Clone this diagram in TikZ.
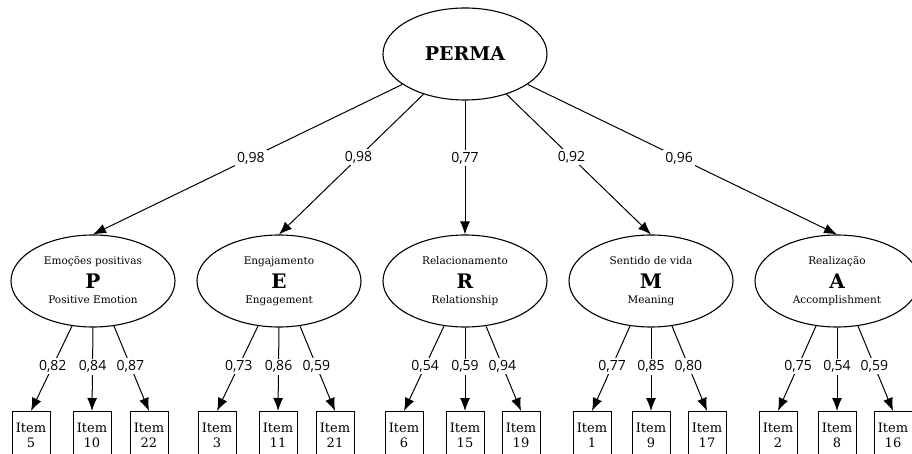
\documentclass[tikz,border=0pt]{standalone}
\usepackage{fontspec}
\setmainfont{DejaVu Serif}
\newfontfamily\numfont{Open Sans}
\usetikzlibrary{arrows.meta}
\usetikzlibrary{shapes.geometric}
\usetikzlibrary{positioning}

\begin{document}
\begin{tikzpicture}[x=1pt, y=-1pt,
    latent/.style={draw, ellipse, line width=1.1pt, minimum width=164pt, minimum height=92pt, inner sep=0pt, font=\fontsize{20}{20}\selectfont\bfseries},
    small/.style={anchor=base, inner sep=0pt, font=\fontsize{10.5}{11}\selectfont},
    item/.style={draw, anchor=north, line width=1pt, minimum width=38pt, minimum height=48pt, inner sep=0pt, align=center, font=\fontsize{13}{15.5}\selectfont},
    coef/.style={fill=white, inner sep=2pt, font=\numfont\fontsize{14}{14}\selectfont},
    arr/.style={-{Latex[length=13pt, width=10pt]}, line width=1pt}]
    \useasboundingbox (0,0) rectangle (912,454);

    % top factor
    \node[latent, font=\fontsize{19}{19}\selectfont\bfseries] (perma) at (465,54) {PERMA};

    % the five factors
    \node[latent] (p) at (93,281) {P};
    \node[small] (p-pt) at ([yshift=16pt]p.center) {Emoções positivas};
    \node[small] (p-en) at ([yshift=-22pt]p.center) {Positive Emotion};

    \node[latent] (e) at (279,281) {E};
    \node[small] (e-pt) at ([yshift=16pt]e.center) {Engajamento};
    \node[small] (e-en) at ([yshift=-22pt]e.center) {Engagement};

    \node[latent] (r) at (465,281) {R};
    \node[small] (r-pt) at ([yshift=16pt]r.center) {Relacionamento};
    \node[small] (r-en) at ([yshift=-22pt]r.center) {Relationship};

    \node[latent] (m) at (651,281) {M};
    \node[small] (m-pt) at ([yshift=16pt]m.center) {Sentido de vida};
    \node[small] (m-en) at ([yshift=-22pt]m.center) {Meaning};

    \node[latent] (a) at (837,281) {A};
    \node[small] (a-pt) at ([yshift=16pt]a.center) {Realização};
    \node[small] (a-en) at ([yshift=-22pt]a.center) {Accomplishment};

    \draw[arr] (perma) -- node[coef, pos=0.49] {0,98} (p.north);
    \draw[arr] (perma) -- node[coef, pos=0.45] {0,98} (e.north);
    \draw[arr] (perma) -- node[coef, pos=0.43] {0,77} (r.north);
    \draw[arr] (perma) -- node[coef, pos=0.45] {0,92} (m.north);
    \draw[arr] (perma) -- node[coef, pos=0.49] {0,96} (a.north);

    % items
    \node[item] (i5) at (31,411) {Item\\5};
    \node[item] (i10) at (92,411) {Item\\10};
    \node[item] (i22) at (149,411) {Item\\22};
    \node[item] (i3) at (217,411) {Item\\3};
    \node[item] (i11) at (278,411) {Item\\11};
    \node[item] (i21) at (335,411) {Item\\21};
    \node[item] (i6) at (404,411) {Item\\6};
    \node[item] (i15) at (465,411) {Item\\15};
    \node[item] (i19) at (521,411) {Item\\19};
    \node[item] (i1) at (592,411) {Item\\1};
    \node[item] (i9) at (651,411) {Item\\9};
    \node[item] (i17) at (707,411) {Item\\17};
    \node[item] (i2) at (778,411) {Item\\2};
    \node[item] (i8) at (837,411) {Item\\8};
    \node[item] (i16) at (893,411) {Item\\16};

    \draw[arr] (p.-115) -- node[coef, pos=0.47] {0,82} (i5.north);
    \draw[arr] (p.-90) -- node[coef, pos=0.47] {0,84} (i10.north);
    \draw[arr] (p.-65) -- node[coef, pos=0.47] {0,87} (i22.north);
    \draw[arr] (e.-115) -- node[coef, pos=0.47] {0,73} (i3.north);
    \draw[arr] (e.-90) -- node[coef, pos=0.47] {0,86} (i11.north);
    \draw[arr] (e.-65) -- node[coef, pos=0.47] {0,59} (i21.north);
    \draw[arr] (r.-115) -- node[coef, pos=0.47] {0,54} (i6.north);
    \draw[arr] (r.-90) -- node[coef, pos=0.47] {0,59} (i15.north);
    \draw[arr] (r.-65) -- node[coef, pos=0.47] {0,94} (i19.north);
    \draw[arr] (m.-115) -- node[coef, pos=0.47] {0,77} (i1.north);
    \draw[arr] (m.-90) -- node[coef, pos=0.47] {0,85} (i9.north);
    \draw[arr] (m.-65) -- node[coef, pos=0.47] {0,80} (i17.north);
    \draw[arr] (a.-115) -- node[coef, pos=0.47] {0,75} (i2.north);
    \draw[arr] (a.-90) -- node[coef, pos=0.47] {0,54} (i8.north);
    \draw[arr] (a.-65) -- node[coef, pos=0.47] {0,59} (i16.north);

  \end{tikzpicture}
\end{document}
